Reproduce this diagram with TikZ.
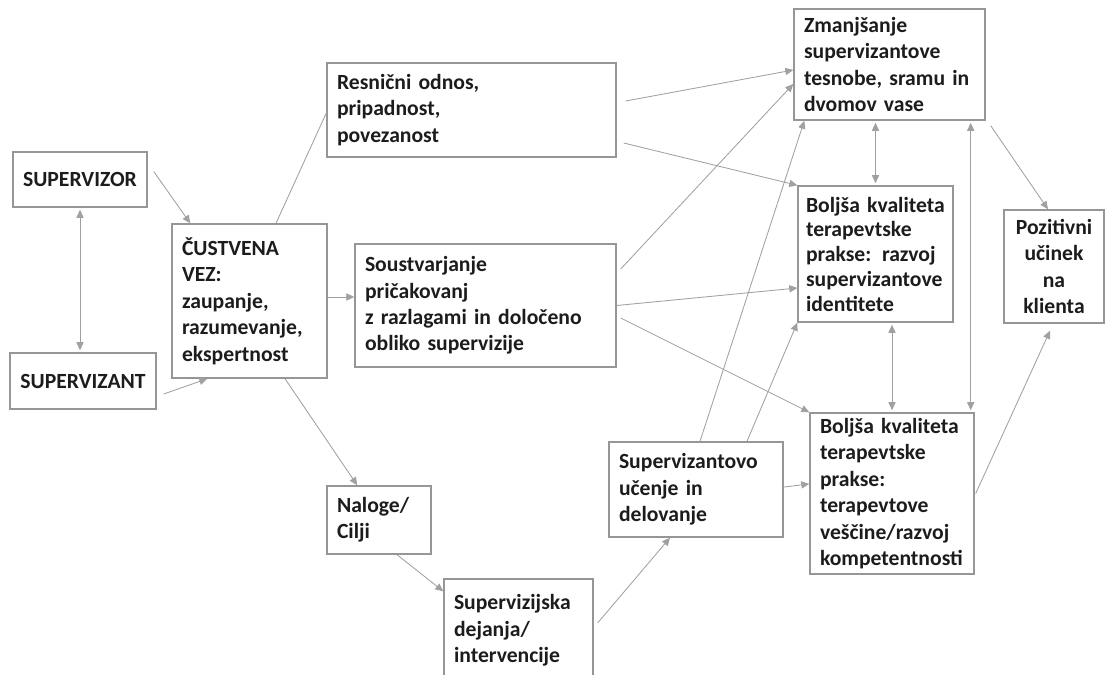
\documentclass[tikz,border=0pt]{standalone}
\usepackage{fontspec}
\setmainfont{Carlito}
\usetikzlibrary{arrows.meta}
\definecolor{boxgray}{RGB}{150,150,150}
\definecolor{linkgray}{RGB}{160,160,160}
\definecolor{ink}{RGB}{30,27,28}
\begin{document}
\begin{tikzpicture}[
  >={Triangle[length=0.2cm,width=0.18cm]},
  box/.style={draw=boxgray, line width=1pt, text=ink, inner xsep=0.25cm, inner ysep=0pt,
    font=\fontsize{15.4}{18.8}\selectfont\bfseries, align=left},
  link/.style={draw=linkgray, line width=0.6pt},
  both/.style={link, <->, shorten <=1.5pt, shorten >=1.5pt}
]
\clip (0,0) rectangle (27.625,-16.85);
\node[box, align=center, minimum width=3.35cm, minimum height=1.375cm] (sup) at (2.0,-4.4875) {SUPERVIZOR};
\node[box, align=center, minimum width=3.65cm, minimum height=1.4cm] (sznt) at (2.075,-9.525) {SUPERVIZANT};
\node[box, text width=3.375cm, minimum height=3.85cm] (vez) at (6.2375,-7.525) {ČUSTVENA\\
                                                                             VEZ:\\
                                                                             zaupanje,\\
                                                                             razumevanje,\\
                                                                             ekspertnost};
\node[box, text width=6.725cm, minimum height=2.35cm] (odnos) at (11.7875,-2.75) {Resnični odnos,\\
                                                                                  pripadnost,\\
                                                                                  povezanost};
\node[box, text width=6.025cm, minimum height=3.075cm] (sousv) at (12.1375,-7.6375) {Soustvarjanje\\
                                                                                    pričakovanj\\
                                                                                    z razlagami in določeno\\
                                                                                    obliko supervizije};
\node[box, text width=4.275cm, minimum height=2.775cm] (zmanj) at (22.2375,-1.6125) {Zmanjšanje\\
                                                                                    supervizantove\\
                                                                                    tesnobe, sramu in\\
                                                                                    dvomov vase};
\node[box, inner xsep=0.2cm, text width=3.475cm, minimum height=3.4cm, font=\fontsize{15.4}{17.6}\selectfont\bfseries] (ident) at (21.8875,-6.35) {Boljša kvaliteta\\
                                                                                terapevtske\\
                                                                                prakse: razvoj\\
                                                                                supervizantove\\
                                                                                identitete};
\node[box, align=center, text width=2.0cm, minimum height=2.825cm] (klient) at (26.35,-6.6625) {Pozitivni\\
                                                                                               učinek\\
                                                                                               na\\
                                                                                               klienta};
\node[box, text width=2.1cm, minimum height=1.7cm] (naloge) at (9.475,-13.0) {Naloge/\\
                                                                             Cilji};
\node[box, text width=3.225cm, minimum height=2.575cm] (dejanja) at (12.9625,-15.7625) {Supervizijska\\
                                                                                       dejanja/\\
                                                                                       intervencije};
\node[box, text width=3.85cm, minimum height=2.375cm] (ucenje) at (17.4,-12.2375) {Supervizantovo\\
                                                                                  učenje in\\
                                                                                  delovanje};
\node[box, text width=3.6cm, minimum height=4.025cm] (vescine) at (22.3,-12.3375) {Boljša kvaliteta\\
                                                                                  terapevtske\\
                                                                                  prakse:\\
                                                                                  terapevtove\\
                                                                                  veščine/razvoj\\
                                                                                  kompetentnosti};
\draw[both] (sup.south) -- (sup.south |- sznt.north);
\draw[link,->] ([xshift=0.15cm,yshift=0.2cm]sup.east) -- ([xshift=0.475cm]vez.north west);
\draw[link,->] ([xshift=0.175cm,yshift=-0.325cm]sznt.east) -- ([xshift=0.9cm]vez.south west);
\draw[link] ([xshift=0.6625cm]vez.north) -- ([yshift=-0.075cm]odnos.west);
\draw[link,->] ([yshift=0.1cm]vez.east) -- ([yshift=0.1cm]vez.east -| sousv.west);
\draw[link,->] ([xshift=0.8875cm]vez.south) -- ([xshift=0.775cm]naloge.north west);
\draw[link,->] ([xshift=0.45cm]naloge.south) -- ([yshift=-0.325cm]dejanja.north west);
\draw[link,->] ([xshift=0.1cm,yshift=0.19cm]dejanja.east) -- ([xshift=-0.65cm]ucenje.south);
\draw[link,->] ([yshift=0.06cm]ucenje.east) -- ([yshift=0.24cm]vescine.west);
\draw[link,->] ([xshift=0.1cm]ucenje.north) -- ([xshift=0.275cm]zmanj.south west);
\draw[link,->] ([xshift=1.275cm]ucenje.north) -- (ident.south west);
\draw[link,->] ([xshift=0.1cm,yshift=0.9125cm]sousv.east) -- ([yshift=-0.4875cm]zmanj.west);
\draw[link,->] (sousv.east) -- ([yshift=-0.85cm]ident.west);
\draw[link,->] ([xshift=0.1cm,yshift=-0.3125cm]sousv.east) -- (vescine.north west);
\draw[link,->] ([xshift=0.225cm,yshift=0.225cm]odnos.east) -- ([yshift=-0.1375cm]zmanj.west);
\draw[link,->] ([xshift=0.175cm,yshift=-0.825cm]odnos.east) -- (ident.north west);
\draw[both] (ident.north |- zmanj.south) -- (ident.north);
\draw[both] ([xshift=-0.375cm]zmanj.south east) -- ([xshift=-0.375cm]zmanj.south east |- vescine.north);
\draw[both] (vescine.north |- ident.south) -- (vescine.north);
\draw[link,->] ([xshift=0.125cm,yshift=-0.125cm]zmanj.south east) -- ([xshift=-0.15cm]klient.north);
\draw[link,->] ([xshift=0.025cm]vescine.east) -- ([xshift=-0.1cm,yshift=-0.175cm]klient.south);
\end{tikzpicture}
\end{document}
